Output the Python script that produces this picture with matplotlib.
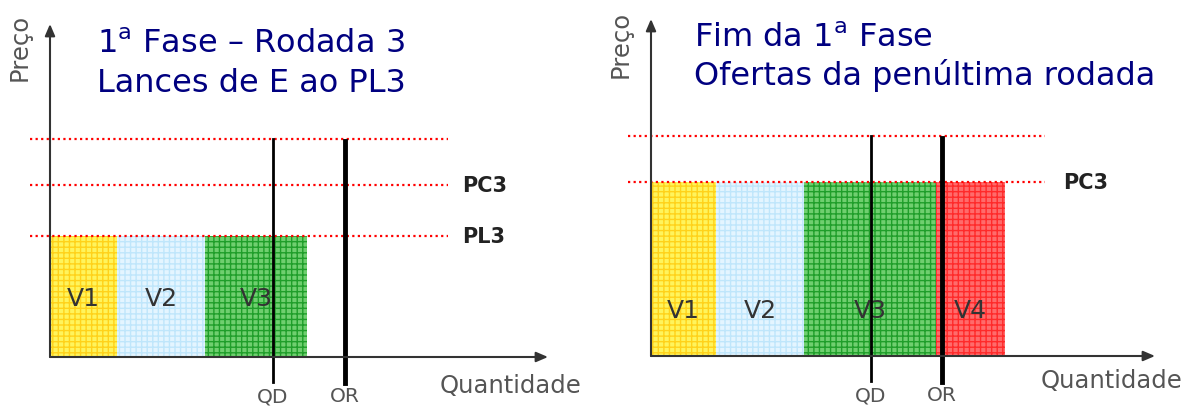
import matplotlib.pyplot as plt

# painel esquerdo: 1a fase, rodada 3
left_names = ["V1", "V2", "V3"]
left_widths = [6.7, 8.8, 10.2]
left_height = 12.1
left_levels = [21.8, 17.2, 12.1]
left_level_labels = ["", "PC3", "PL3"]
left_qd = 22.3
left_or = 29.5
left_title = ["1$^{\\mathregular{a}}$ Fase – Rodada 3", "Lances de E ao PL3"]

# painel direito: fim da 1a fase
right_names = ["V1", "V2", "V3", "V4"]
right_widths = [6.5, 8.8, 13.2, 6.9]
right_height = 17.4
right_levels = [22.0, 17.4]
right_level_labels = ["", "PC3"]
right_qd = 22.0
right_or = 29.1
right_title = ["Fim da 1$^{\\mathregular{a}}$ Fase", "Ofertas da penúltima rodada"]

face_colors = {"V1": "#fff45c", "V2": "#e4f5ff", "V3": "#6fcf6f", "V4": "#ff6b6b"}
hatch_colors = {"V1": "#ffd21a", "V2": "#bfe6fb", "V3": "#1f9e2a", "V4": "#ff2a2a"}

plt.rcParams["hatch.linewidth"] = 1.0

fig = plt.figure(figsize=(11.89, 4.10), dpi=100)


def draw_panel(ax, names, widths, height, levels, level_labels, qd, q_or,
               title, title_x, title_y, label_y, line_x, arrow_top, arrow_right,
               qty_y, preco_y):
    ax.set_axis_off()
    left = 0.0
    for name, w in zip(names, widths):
        ax.bar(left, height, width=w, align="edge", color=face_colors[name],
               edgecolor=hatch_colors[name], hatch="+++", linewidth=0, zorder=1)
        ax.text(left + w / 2, label_y, name, ha="center", va="center",
                fontsize=18, color="#333333", zorder=4)
        left += w

    for lvl, lab in zip(levels, level_labels):
        ax.plot(line_x, [lvl, lvl], color="red", linestyle=(0, (1, 1.5)),
                linewidth=1.6, zorder=3)
        if lab:
            ax.text(41.2, lvl, lab, ha="left", va="center", fontsize=15,
                    fontweight="bold", color="#222222")

    ax.plot([qd, qd], [levels[0], -2.5], color="black", linewidth=2.0, zorder=5)
    ax.plot([q_or, q_or], [levels[0] - 0.2, -2.6], color="black", linewidth=3.5, zorder=5)
    ax.text(qd, -3.9, "QD", ha="center", va="center", fontsize=14.5, color="#555555")
    ax.text(q_or, -3.9, "OR", ha="center", va="center", fontsize=14.5, color="#555555")

    ax.annotate("", xy=(0, arrow_top), xytext=(0, 0),
                arrowprops=dict(arrowstyle="-|>,head_length=0.7,head_width=0.3",
                                color="#333333", lw=1.5, shrinkA=0, shrinkB=0), zorder=6)
    ax.annotate("", xy=(arrow_right, 0), xytext=(0, 0),
                arrowprops=dict(arrowstyle="-|>,head_length=0.7,head_width=0.3",
                                color="#333333", lw=1.5, shrinkA=0, shrinkB=0), zorder=6)

    ax.text(39.0, qty_y, "Quantidade", ha="left", va="center", fontsize=17.5, color="#555555")
    ax.text(-3.05, preco_y, "Preço", ha="center", va="center", rotation=90,
            fontsize=17.5, color="#555555")

    for line, ty in zip(title, title_y):
        ax.text(title_x, ty, line, ha="left", va="baseline", fontsize=23,
                color="#000080")


ax1 = fig.add_axes([0, 0, 595 / 1189, 1])
ax1.set_xlim(-5.0, 54.5)
ax1.set_ylim(-5.2, 35.8)
draw_panel(ax1, left_names, left_widths, left_height, left_levels, left_level_labels,
           left_qd, left_or, left_title, 4.7, [30.5, 26.6], 5.9, [-2.0, 39.8],
           33.3, 49.8, -2.8, 31.1)

ax2 = fig.add_axes([595 / 1189, 0, 594 / 1189, 1])
ax2.set_xlim(-5.6, 53.8)
ax2.set_ylim(-5.3, 35.7)
draw_panel(ax2, right_names, right_widths, right_height, right_levels, right_level_labels,
           right_qd, right_or, right_title, 4.3, [31.0, 27.2], 4.6, [-2.3, 39.4],
           33.7, 50.4, -2.4, 31.3)

fig.savefig("out.png", dpi=100)
